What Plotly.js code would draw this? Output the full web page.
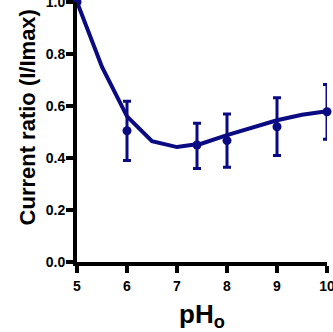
<!DOCTYPE html>
<html>
<head>
<script src="https://cdn.plot.ly/plotly-3.0.1.min.js"></script>
<style>html,body{margin:0;padding:0;background:#fff;}#chart{width:333px;height:332px;}</style>
</head>
<body>
<div id="chart"></div>
<script>
var phPoints = [5, 6, 7.4, 8, 9, 10];
var ratioPoints = [1.0, 0.505, 0.45, 0.467, 0.52, 0.578];
var errPlus = [0, 0.113, 0.084, 0.102, 0.112, 0.105];
var errMinus = [0, 0.115, 0.09, 0.103, 0.11, 0.106];
var fitX = [5, 5.5, 6, 6.5, 7, 7.5, 8, 8.5, 9, 9.5, 10];
var fitY = [1.0, 0.75, 0.56, 0.465, 0.442, 0.456, 0.488, 0.518, 0.545, 0.566, 0.58];
var xTicks = [5, 6, 7, 8, 9, 10];
var yTicks = [0, 0.2, 0.4, 0.6, 0.8, 1.0];
var xTitle = 'pH<sub>o</sub>';
var yTitle = 'Current ratio (I/Imax)';

var navy = '#0a0a82';
var fam = 'Liberation Sans, Arial, sans-serif';
var tickFont = {family: fam, size: 14, color: '#000', weight: 'bold'};

var traces = [
  {x: fitX, y: fitY, mode: 'lines', line: {color: navy, width: 4}, cliponaxis: false, hoverinfo: 'skip'},
  {x: phPoints, y: ratioPoints, mode: 'markers', marker: {color: navy, size: 9},
   cliponaxis: false,
   error_y: {type: 'data', symmetric: false, array: errPlus, arrayminus: errMinus,
             color: navy, thickness: 3, width: 4}}
];

var layout = {
  width: 333, height: 332,
  margin: {l: 77, r: 6, t: 2, b: 70},
  showlegend: false,
  paper_bgcolor: '#fff', plot_bgcolor: '#fff',
  xaxis: {
    range: [5, 10], tickvals: xTicks, ticktext: xTicks.map(String),
    showgrid: false, zeroline: false, showline: true, linecolor: '#000', linewidth: 4,
    ticks: 'outside', ticklen: 7, tickwidth: 3.5, tickcolor: '#000',
    tickfont: tickFont, ticklabeloverflow: 'allow', ticklabelstandoff: 1
  },
  yaxis: {
    range: [0, 1], tickvals: yTicks, ticktext: yTicks.map(function(v){return v.toFixed(1);}),
    showgrid: false, zeroline: false, showline: true, linecolor: '#000', linewidth: 4,
    ticks: 'outside', ticklen: 7, tickwidth: 3.5, tickcolor: '#000',
    tickfont: tickFont, ticklabeloverflow: 'allow', ticklabelstandoff: -2
  },
  annotations: [
    {text: xTitle, xref: 'paper', yref: 'paper', x: 0.5, y: -0.205, xanchor: 'center', yanchor: 'middle',
     showarrow: false, font: {family: fam, size: 26, color: '#000', weight: 'bold'}},
    {text: yTitle, xref: 'paper', yref: 'paper', x: -0.2, y: 0.556, xanchor: 'center', yanchor: 'middle',
     textangle: -90, showarrow: false, font: {family: fam, size: 22, color: '#000', weight: 'bold'}}
  ]
};

Plotly.newPlot('chart', traces, layout, {displayModeBar: false, staticPlot: true});
</script>
</body>
</html>
